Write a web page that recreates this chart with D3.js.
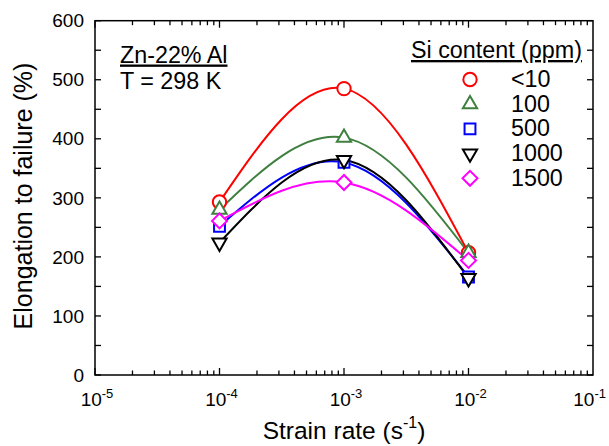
<!DOCTYPE html>
<html>
<head>
<meta charset="utf-8">
<script src="https://cdn.jsdelivr.net/npm/d3@7/dist/d3.min.js"></script>
<style>
  html, body { margin: 0; padding: 0; background: #fff; }
  svg { display: block; font-family: "Liberation Sans", Arial, sans-serif; }
</style>
</head>
<body>
<svg id="chart" width="609" height="446"></svg>
<script>
// ---- data ----
const strainRates = [1e-4, 1e-3, 1e-2];
const seriesNames = ["<10", "100", "500", "1000", "1500"];
const siLt10 = [293, 485, 207];
const si100 = [280, 402, 207];
const si500 = [252, 360, 166];
const si1000 = [224, 364, 164];
const si1500 = [261, 326, 194];
const xTickExponents = [-5, -4, -3, -2, -1];
const yTickValues = [0, 100, 200, 300, 400, 500, 600];

const seriesValues = [siLt10, si100, si500, si1000, si1500];
const colors = ["#ff0000", "#3f7f3f", "#0000ff", "#000000", "#ff00ff"];
const shapes = ["circle", "triangle", "square", "triangleDown", "diamond"];

const svg = d3.select("#chart");
const x = d3.scaleLog().domain([1e-5, 1e-1]).range([95, 593]);
const y = d3.scaleLinear().domain([0, 600]).range([375, 20.7]);

function symbolPath(shape) {
  switch (shape) {
    case "circle": return d3.symbol(d3.symbolCircle, 141)();
    case "triangle": return d3.symbol(d3.symbolTriangle, 88)();
    case "triangleDown": return d3.symbol(d3.symbolTriangle, 88)();
    case "square": return d3.symbol(d3.symbolSquare, 118)();
    case "diamond": return d3.symbol(d3.symbolSquare, 112)();
  }
}
function symbolRot(shape) {
  if (shape === "triangleDown") return 180;
  if (shape === "diamond") return 45;
  return 0;
}

// ---- frame ----
const x0 = x.range()[0], x1 = x.range()[1], y0 = y.range()[0], y1 = y.range()[1];
svg.append("rect").attr("x", x0).attr("y", y1).attr("width", x1 - x0).attr("height", y0 - y1)
  .attr("fill", "none").attr("stroke", "#000").attr("stroke-width", 1.5);

// y ticks every 50, inward, both sides
const yMinor = d3.range(0, 601, 50);
const tg = svg.append("g").attr("stroke", "#000").attr("stroke-width", 1.3);
yMinor.forEach(v => {
  tg.append("line").attr("x1", x0).attr("x2", x0 + 6).attr("y1", y(v)).attr("y2", y(v));
  tg.append("line").attr("x1", x1).attr("x2", x1 - 6).attr("y1", y(v)).attr("y2", y(v));
});
// x log ticks
for (let e = -5; e < -1; e++) {
  for (let m = 1; m <= 9; m++) {
    const v = m * Math.pow(10, e);
    const len = m === 1 ? 7 : 4.5;
    tg.append("line").attr("x1", x(v)).attr("x2", x(v)).attr("y1", y0).attr("y2", y0 - len);
    tg.append("line").attr("x1", x(v)).attr("x2", x(v)).attr("y1", y1).attr("y2", y1 + len);
  }
}

// y tick labels
svg.append("g").selectAll("text").data(yTickValues).join("text")
  .attr("x", 84).attr("y", d => y(d)).attr("dy", "0.35em")
  .attr("text-anchor", "end").attr("font-size", 19).text(d => d);

// x tick labels
const xl = svg.append("g").selectAll("text").data(xTickExponents).join("text")
  .attr("x", d => x(Math.pow(10, d)) + 2).attr("y", 406)
  .attr("text-anchor", "middle").attr("font-size", 19);
xl.append("tspan").text("10");
xl.append("tspan").attr("font-size", 13).attr("dy", -8).text(d => String(d));
xl.each(function(d) {
  const w = this.getComputedTextLength();
  const cx = x(Math.pow(10, d)) + 2;
  const maxC = 606 - w / 2;
  if (cx > maxC) d3.select(this).attr("x", maxC);
});

// axis titles
const xt = svg.append("text").attr("x", 344).attr("y", 439).attr("text-anchor", "middle").attr("font-size", 24.5);
xt.append("tspan").text("Strain rate (s");
xt.append("tspan").attr("font-size", 16).attr("dy", -11).text("-1");
xt.append("tspan").attr("dy", 11).text(")");

svg.append("text").attr("transform", "translate(32,196) rotate(-90)")
  .attr("text-anchor", "middle").attr("font-size", 25).text("Elongation to failure (%)");

// annotation
svg.append("text").attr("x", 120).attr("y", 62.5).attr("font-size", 23.3)
  .attr("text-decoration", "underline").text("Zn-22% Al");
svg.append("text").attr("x", 120).attr("y", 88.5).attr("font-size", 23.3).text("T = 298 K");

// ---- curves ----
const line = d3.line().x(d => x(d[0])).y(d => y(d[1])).curve(d3.curveNatural);
seriesValues.forEach((vals, i) => {
  svg.append("path").datum(strainRates.map((r, j) => [r, vals[j]]))
    .attr("d", line).attr("fill", "none").attr("stroke", colors[i]).attr("stroke-width", 2);
});
// ---- markers ----
seriesValues.forEach((vals, i) => {
  svg.append("g").selectAll("path").data(strainRates.map((r, j) => [r, vals[j]])).join("path")
    .attr("d", symbolPath(shapes[i]))
    .attr("transform", d => `translate(${x(d[0])},${y(d[1])}) rotate(${symbolRot(shapes[i])})`)
    .attr("fill", "#fff").attr("stroke", colors[i]).attr("stroke-width", 2);
});

// ---- legend ----
svg.append("text").attr("x", 411).attr("y", 58).attr("font-size", 23.3)
  .attr("text-decoration", "underline").text("Si content (ppm)");
seriesNames.forEach((name, i) => {
  const cy = 79.5 + i * 24.7;
  svg.append("path").attr("d", symbolPath(shapes[i]))
    .attr("transform", `translate(470,${cy}) rotate(${symbolRot(shapes[i])})`)
    .attr("fill", "#fff").attr("stroke", colors[i]).attr("stroke-width", 2);
  svg.append("text").attr("x", 511).attr("y", cy + 7.5).attr("font-size", 23.3).text(name);
});
</script>
</body>
</html>
